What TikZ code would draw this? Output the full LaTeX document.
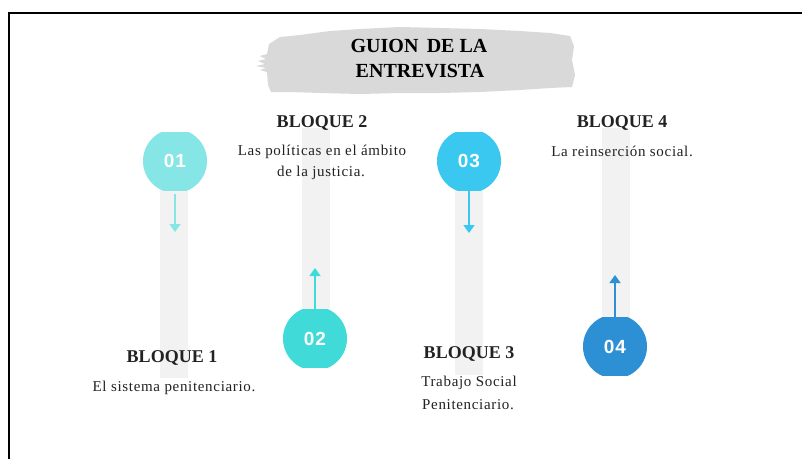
\documentclass[tikz,border=0pt]{standalone}
\usepackage{fontspec}
\setmainfont{Liberation Serif}
\newfontfamily\titlefont{Liberation Serif}
\newfontfamily\bodyfont[LetterSpace=4.5]{Liberation Serif}
\newfontfamily\numfont[LetterSpace=5]{Liberation Sans}
\usetikzlibrary{arrows.meta}
\definecolor{cone}{RGB}{134,230,230}
\definecolor{ctwo}{RGB}{64,219,216}
\definecolor{cthree}{RGB}{58,200,240}
\definecolor{cfour}{RGB}{46,144,212}
\definecolor{barg}{RGB}{242,242,242}
\definecolor{brushg}{RGB}{217,217,217}
\definecolor{txt}{RGB}{34,34,34}
\tikzset{
  numnode/.style={rectangle, minimum width=64pt, minimum height=58pt, inner sep=0pt,
    text=white, font=\numfont\bfseries\fontsize{19}{20}\selectfont,
    path picture={\fill[#1] (path picture bounding box.center) circle (32pt);}},
  bar/.style={fill=barg, draw=none},
  head/.style={text=txt, font=\titlefont\bfseries\fontsize{18}{19}\selectfont, inner sep=0pt},
  body/.style={text=txt, font=\bodyfont\fontsize{15}{16}\selectfont, inner sep=0pt},
  ttl/.style={text=black, font=\titlefont\bfseries\fontsize{20}{21}\selectfont, inner sep=0pt},
  arr/.style={line width=1.6pt, -{Triangle[width=11pt,length=8pt]}},
}
\begin{document}
\begin{tikzpicture}[x=1pt,y=-1pt]
\useasboundingbox (0,0) rectangle (802,459);
\fill[white] (0,0) rectangle (802,459);
% frame
\draw[line width=2pt] (9,459) -- (9,13) -- (802,13);
% brush
\fill[brushg] (280,37) -- (300,35) -- (330,31) -- (360,29) -- (400,27) -- (440,28) -- (480,29)
  -- (520,31) -- (550,33) -- (570,36) -- (574,46) -- (572,60) -- (575,75) -- (572,87)
  -- (550,88) -- (520,90) -- (480,92) -- (440,93) -- (400,93) -- (360,94) -- (320,93)
  -- (290,92) -- (271,92) -- (268,85) -- (267,72) -- (260,70) -- (266,68) -- (256,66)
  -- (265,64) -- (258,61) -- (266,59) -- (260,56) -- (267,54) -- (269,44) -- cycle;
\node[ttl] (t1) at (419,46) {GUION\, DE LA};
\node[ttl] (t2) at (420,71) {ENTREVISTA};
% bars
\fill[bar] (160,185) rectangle (188,378);
\fill[bar] (302,128) rectangle (330,312);
\fill[bar] (455,185) rectangle (483,375);
\fill[bar] (602,128) rectangle (630,320);
% circles
\node[numnode=cone] (n1) at (175,161) {01};
\node[numnode=ctwo] (n2) at (315,338.5) {02};
\node[numnode=cthree] (n3) at (469,161) {03};
\node[numnode=cfour] (n4) at (615,346.5) {04};
% arrow end points
\coordinate (e1) at (175,232);
\coordinate (e2) at (315,268);
\coordinate (e3) at (469,233);
\coordinate (e4) at (615,275);
\draw[arr, cone] (n1.south) ++(0,4) -- (e1);
\draw[arr, ctwo] ([yshift=-3pt]n2.north) -- (e2);
\draw[arr, cthree] ([yshift=4pt]n3.south) -- (e3);
\draw[arr, cfour] ([yshift=-4pt]n4.north) -- (e4);
% texts
\node[head] (b2) at (322,122.5) {BLOQUE 2};
\node[body] (d2a) at (322,151.5) {Las políticas en el ámbito};
\node[body] (d2b) at (321,172.5) {de la justicia.};
\node[head] (b4) at (622,122.5) {BLOQUE 4};
\node[body] (d4) at (622,151.5) {La reinserción social.};
\node[head] (b1) at (172,358) {BLOQUE 1};
\node[body] (d1) at (174,388) {El sistema penitenciario.};
\node[head] (b3) at (469,353.5) {BLOQUE 3};
\node[body] (d3a) at (469,383) {Trabajo Social};
\node[body] (d3b) at (468,405) {Penitenciario.};
\end{tikzpicture}
\end{document}
